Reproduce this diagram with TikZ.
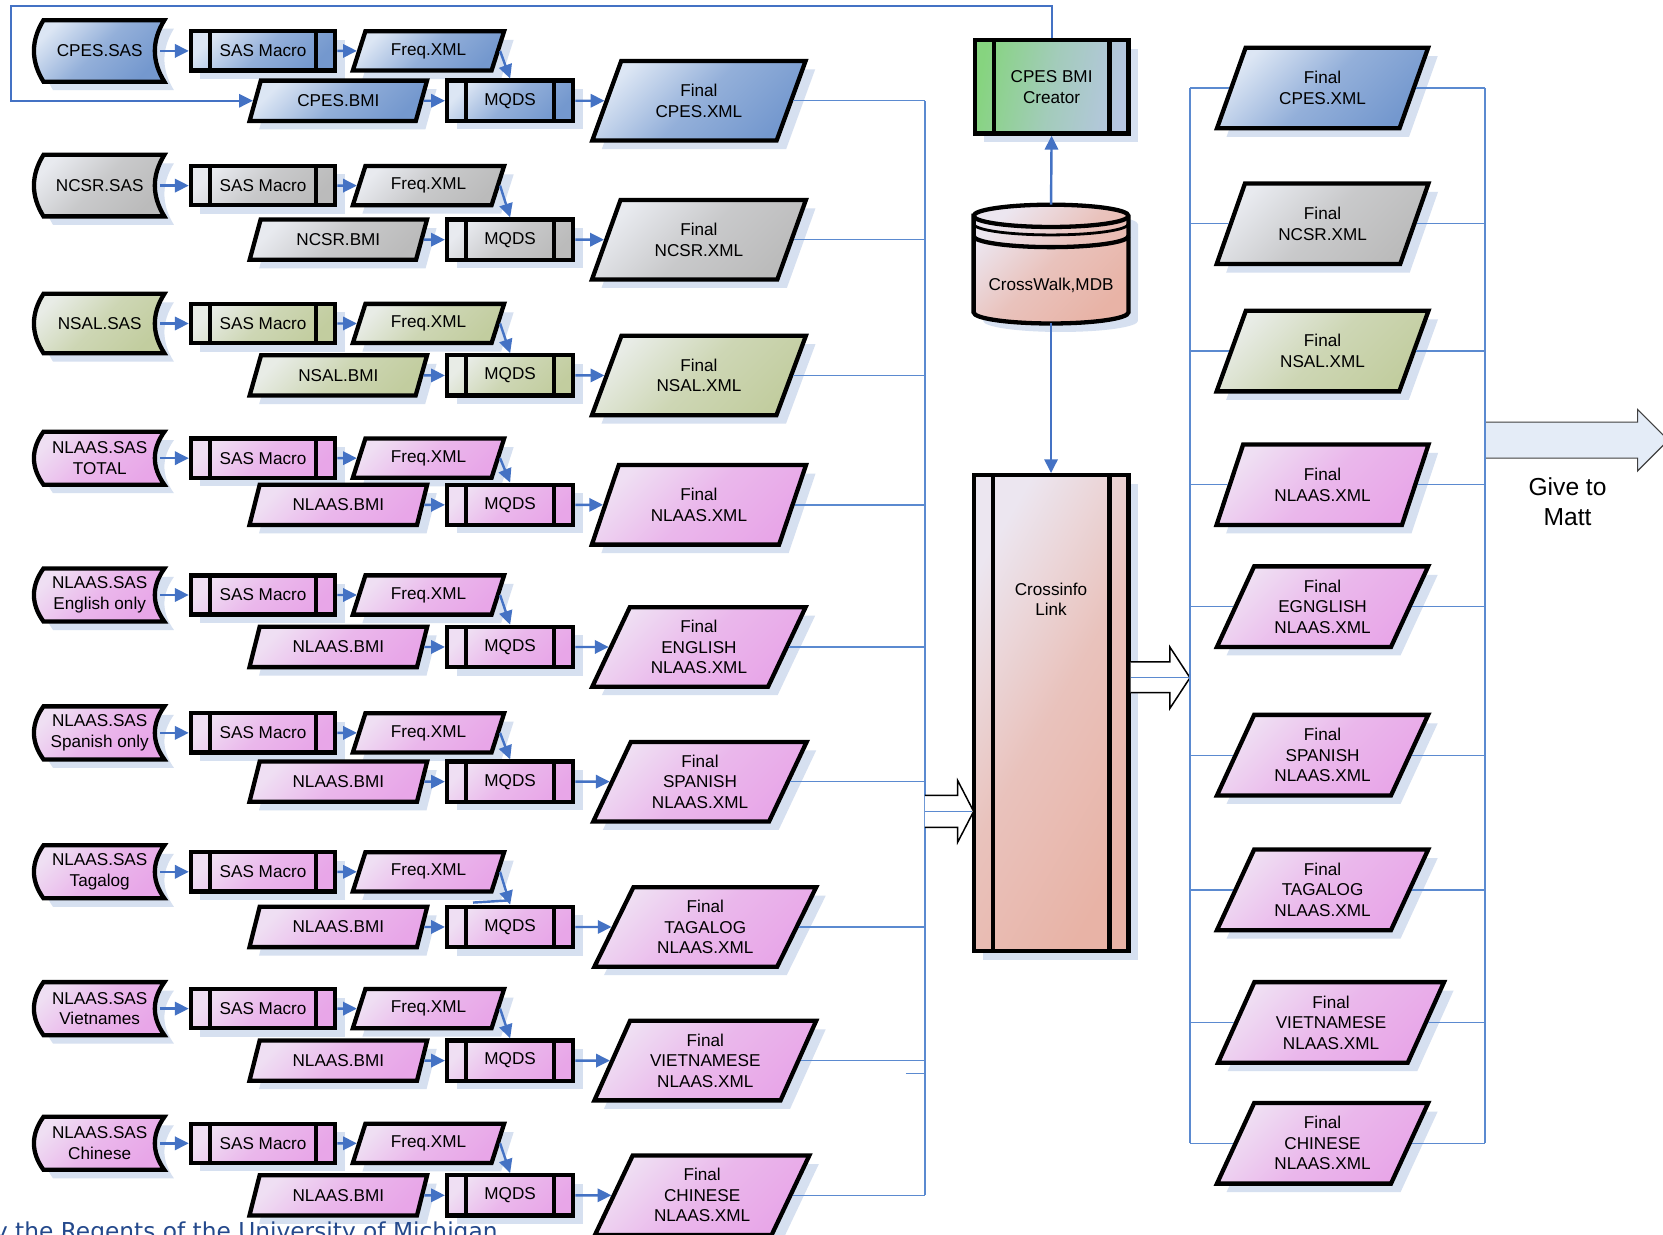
\documentclass[tikz,border=0pt]{standalone}
\usepackage{fontspec}
\setmainfont{Liberation Sans}
\newfontfamily\footfont{DejaVu Sans}
\usepackage{tikz}
\usetikzlibrary{shapes.geometric,arrows.meta,shadows}

\definecolor{flowblue}{HTML}{4472C4}
\definecolor{busblue}{HTML}{5B8AD0}
\definecolor{shadowc}{HTML}{D6E0F0}
\definecolor{blueL}{HTML}{DCE6F4}
\definecolor{blueD}{HTML}{7498CE}
\definecolor{grayL}{HTML}{E8EAEF}
\definecolor{grayD}{HTML}{BBBBBB}
\definecolor{oliveL}{HTML}{E8ECE6}
\definecolor{oliveD}{HTML}{C2CD9F}
\definecolor{pinkL}{HTML}{EFDFF3}
\definecolor{pinkD}{HTML}{E8A6E8}
\definecolor{greenL}{HTML}{86D47F}
\definecolor{greenD}{HTML}{B6C6E2}
\definecolor{salmonL}{HTML}{ECE6F0}
\definecolor{salmonD}{HTML}{E8B3A6}
\definecolor{arrowfill}{HTML}{E4ECF7}
\definecolor{footblue}{HTML}{24498C}

\tikzset{
  tint/.style={left color=#1L, right color=#1D, middle color=#1D!70!#1L, shading angle=45},
  boxline/.style={draw=black, line width=2.3pt,
    drop shadow={fill=shadowc, opacity=1, shadow xshift=0.18cm, shadow yshift=-0.16cm}},
  procbox/.style={boxline, rectangle, inner sep=0pt, align=center,
    minimum width=#1, minimum height=0.74cm,
    path picture={
      \draw [line width=2.3pt] ([xshift=0.36cm]path picture bounding box.north west) -- ([xshift=0.36cm]path picture bounding box.south west);
      \draw [line width=2.3pt] ([xshift=-0.36cm]path picture bounding box.north east) -- ([xshift=-0.36cm]path picture bounding box.south east);}},
  databox/.style 2 args={boxline, trapezium, trapezium left angle=64, trapezium right angle=116,
    trapezium stretches=true, inner sep=0pt, align=center, minimum width=#1, minimum height=#2},
  flow/.style={draw=flowblue, line width=1.3pt, -{Triangle[length=0.26cm, width=0.25cm]}},
  bus/.style={draw=busblue, line width=0.7pt},
  hollow/.style={draw=black, line width=0.8pt, fill=white}
}

\begin{document}
\begin{tikzpicture}[x=0.02cm, y=-0.02cm, font=\fontsize{9.2}{11}\selectfont]
        \clip (0,0) rectangle (1568,1164);
        \fill [white] (0,0) rectangle (1568,1164);
        \coordinate (bus)  at (872,0);
        \coordinate (lbus) at (1122,0);
        \coordinate (rbus) at (1400,0);

        \foreach \i/\ya/\yb/\col/\sh/\src/\bmi/\fin/\fw/\fx in {
            1/48/95/blue/58/CPES.SAS/CPES.BMI/Final\\CPES.XML/4.04cm/659,
            2/175/226/gray/58/NCSR.SAS/NCSR.BMI/Final\\NCSR.XML/4.04cm/659,
            3/305/354/olive/56/NSAL.SAS/NSAL.BMI/Final\\NSAL.XML/4.04cm/659,
            4/432/476/pink/50/NLAAS.SAS\\TOTAL/NLAAS.BMI/Final\\NLAAS.XML/4.04cm/659,
            5/561/610/pink/50/NLAAS.SAS\\English only/NLAAS.BMI/Final\\ENGLISH\\NLAAS.XML/4.04cm/659,
            6/691/737/pink/50/NLAAS.SAS\\Spanish only/NLAAS.BMI/Final\\SPANISH\\NLAAS.XML/4.04cm/660,
            7/822/874/pink/50/NLAAS.SAS\\Tagalog/NLAAS.BMI/Final\\TAGALOG\\NLAAS.XML/4.2cm/665,
            8/951/1000/pink/50/NLAAS.SAS\\Vietnames/NLAAS.BMI/Final\\VIETNAMESE\\NLAAS.XML/4.2cm/665,
            9/1078/1127/pink/50/NLAAS.SAS\\Chinese/NLAAS.BMI/Final\\CHINESE\\NLAAS.XML/4.06cm/662}{
          \path [boxline, tint=\col] (41,\ya-\sh/2) -- (155,\ya-\sh/2)
                .. controls (143,\ya-\sh/6) and (143,\ya+\sh/6) .. (155,\ya+\sh/2) -- (41,\ya+\sh/2)
                .. controls (29,\ya+\sh/6) and (29,\ya-\sh/6) .. (41,\ya-\sh/2) -- cycle;
          \node [align=center, minimum width=2.26cm, inner sep=0pt] (sas\i) at (94,\ya) {\src};
          \node [procbox=2.72cm, tint=\col]                 (mac\i) at (248,\ya) {SAS Macro};
          \node [databox={2.86cm}{0.74cm}, tint=\col]       (frq\i) at (404,\ya) {Freq.XML};
          \node [databox={3.36cm}{0.76cm}, tint=\col]       (bmi\i) at (319,\yb) {\bmi};
          \node [procbox=2.38cm, minimum height=0.76cm, tint=\col] (mqd\i) at (481,\yb) {MQDS};
          \node [databox={\fw}{1.5cm}, tint=\col]           (fin\i) at (\fx,\yb) {\fin};
          \draw [flow] (sas\i.east) -- (mac\i.west);
          \draw [flow] (mac\i.east) -- (frq\i.west);
          \draw [flow] (frq\i.east) -- (mqd\i.north);
          \draw [flow] (bmi\i.east) -- (mqd\i.west);
          \draw [flow] (mqd\i.east) -- (fin\i.west);
          \draw [bus]  (fin\i.east) -- (fin\i.east -| bus);
        }
        \draw [bus, line width=1pt] (fin1.east -| bus) -- (fin9.east -| bus);
        \draw [draw=flowblue, line width=1.3pt] (446,851) -- (479,849);
        \draw [bus] (854,1012) -- (872,1012);

        \node [procbox=2.9cm, minimum height=1.76cm, left color=greenL, right color=greenD, middle color=greenL!40!greenD, shading angle=80] (cre) at (991.5,82) {CPES BMI\\Creator};
        \path [boxline, tint=salmon] (918,203.5) -- (918,294.5)
              arc [start angle=180, end angle=360, x radius=1.46cm, y radius=0.21cm] -- (1064,203.5)
              arc [start angle=0, end angle=180, x radius=1.46cm, y radius=0.21cm] -- cycle;
        \draw [line width=2.3pt] (918,203.5) arc [start angle=180, end angle=360, x radius=1.46cm, y radius=0.21cm];
        \draw [line width=1.5pt] (918,211)   arc [start angle=180, end angle=360, x radius=1.46cm, y radius=0.21cm];
        \draw [line width=2.3pt] (918,222.5) arc [start angle=180, end angle=360, x radius=1.46cm, y radius=0.21cm];
        \node (cyl) at (991,269) {CrossWalk,MDB};
        \coordinate (cyltop) at (991,193);
        \coordinate (cylbot) at (991,305);
        \node [procbox=2.92cm, minimum height=8.98cm, tint=salmon, shading angle=60] (link) at (991,672.5) {};
        \node [align=center] (linktxt) at (991,565) {Crossinfo\\Link};

        \draw [flow] (cyltop) -- (cre.south);
        \draw [flow] (cylbot) -- (link.north);
        \draw [flow, line width=1pt] (cre.north) |- (10,6) |- (bmi1.west);

        \draw [hollow] (872,750) -- (903,750) -- (903,736) -- (918,765) -- (903,794) -- (903,780) -- (872,780);
        \coordinate (inc) at (872,765);
        \draw [bus] (inc) -- (inc -| link.west);
        \draw [hollow] (1066,624) -- (1103,624) -- (1103,610) -- (1122,639) -- (1103,668) -- (1103,653) -- (1066,653);
        \coordinate (outc) at (1122,639);
        \draw [bus] (outc -| link.east) -- (outc);

        \draw [draw=black!75, line width=0.6pt, fill=arrowfill] (1400,398) -- (1544,398) -- (1544,386) -- (1573,415) -- (1544,444) -- (1544,432) -- (1400,432);

        \foreach \i/\y/\col/\fin/\fw/\fx in {
            1/83/blue/Final\\CPES.XML/4.0cm/1247,
            2/211/gray/Final\\NCSR.XML/4.0cm/1247,
            3/331/olive/Final\\NSAL.XML/4.0cm/1247,
            4/457/pink/Final\\NLAAS.XML/4.0cm/1247,
            5/572/pink/Final\\EGNGLISH\\NLAAS.XML/4.0cm/1247,
            6/712/pink/Final\\SPANISH\\NLAAS.XML/4.0cm/1247,
            7/839/pink/Final\\TAGALOG\\NLAAS.XML/4.0cm/1247,
            8/964/pink/Final\\VIETNAMESE\\NLAAS.XML/4.28cm/1255,
            9/1078/pink/Final\\CHINESE\\NLAAS.XML/4.0cm/1247}{
          \node [databox={\fw}{1.52cm}, tint=\col] (rf\i) at (\fx,\y) {\fin};
          \draw [bus] (rf\i.west) -- (rf\i.west -| lbus);
          \draw [bus] (rf\i.east) -- (rf\i.east -| rbus);
        }
        \draw [bus, line width=1pt] (rf1.west -| lbus) -- (rf9.west -| lbus);
        \draw [bus, line width=1pt] (rf1.east -| rbus) -- (rf9.east -| rbus);

        \node [align=center, font=\fontsize{13.2}{15.9}\selectfont] (give) at (1478,473) {Give to\\Matt};
        \node [anchor=base west, inner sep=0pt, text=footblue, font=\footfont\fontsize{12.5}{15}\selectfont] (foot) at (-6,1169) {y the Regents of the University of Michigan};
      \end{tikzpicture}
\end{document}
